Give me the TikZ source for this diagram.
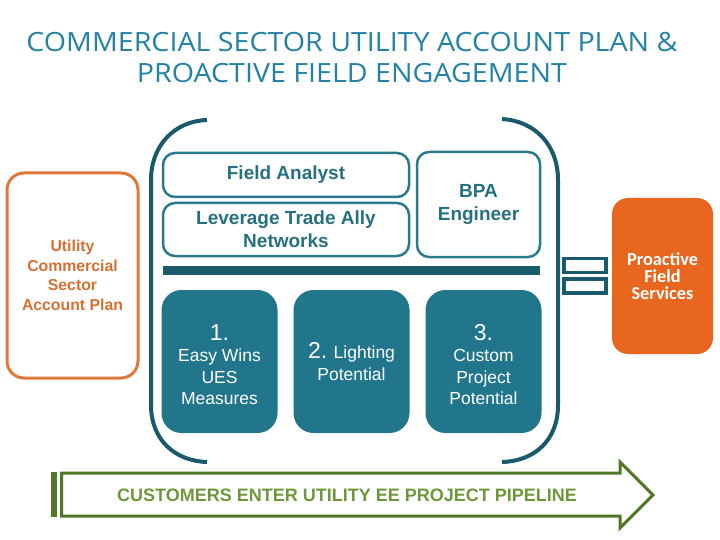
\documentclass[tikz,border=0pt]{standalone}
\usepackage{fontspec}
\setmainfont{Liberation Sans}
\newfontfamily\titlefont{Open Sans}
\newfontfamily\calfont{Carlito}
\definecolor{titleblue}{RGB}{36,130,165}
\definecolor{darkteal}{RGB}{27,90,107}
\definecolor{lineteal}{RGB}{42,122,140}
\definecolor{fillteal}{RGB}{34,118,139}
\definecolor{textteal}{RGB}{38,112,128}
\definecolor{orline}{RGB}{224,120,58}
\definecolor{ortext}{RGB}{214,112,50}
\definecolor{orfill}{RGB}{232,102,30}
\definecolor{gline}{RGB}{80,118,40}
\definecolor{gtext}{RGB}{108,152,58}
\begin{document}
\begin{tikzpicture}[x=1pt,y=-1pt,
  outbox/.style={draw=lineteal,line width=2.5pt,rounded corners=12pt,inner sep=0pt,
     text=textteal,font=\fontsize{19}{23}\selectfont\bfseries,align=center},
  numbox/.style={fill=fillteal,rounded corners=20pt,inner sep=0pt,text=white,
     font=\fontsize{17.5}{21.5}\selectfont,align=center,minimum width=116pt,minimum height=143pt},
  linkbox/.style={draw=darkteal,line width=3.5pt,inner sep=0pt,minimum width=42pt,minimum height=14pt}]
\useasboundingbox (0,0) rectangle (720,540);
% title
\node[font=\titlefont\fontsize{26.5}{31}\selectfont,text=titleblue,align=center,xscale=1.08,transform shape] (title) at (352,58)
  {COMMERCIAL SECTOR UTILITY ACCOUNT PLAN \&\\PROACTIVE FIELD ENGAGEMENT};
% utility box
\node[draw=orline,line width=3pt,rounded corners=17pt,minimum width=131pt,minimum height=205pt,
  inner sep=0pt,text=ortext,font=\fontsize{15.8}{19.5}\selectfont\bfseries,align=center] (util) at (72.5,275.5)
  {Utility\\Commercial\\Sector\\Account Plan};
% brackets
\draw[darkteal,line width=4pt] (207,120) .. controls (175,121) and (151,145) .. (151,180) -- (151,405)
  .. controls (151,440) and (175,461) .. (207,462);
\draw[darkteal,line width=4pt] (502,119) .. controls (535,121) and (558,145) .. (558,180) -- (558,405)
  .. controls (558,440) and (535,461) .. (502,462);
% top boxes
\node[outbox,minimum width=246pt,minimum height=44pt] (fa) at (286,175) {Field Analyst};
\node[outbox,minimum width=246pt,minimum height=53pt] (lev) at (286,229.5) {Leverage Trade Ally\\Networks};
\node[outbox,minimum width=123pt,minimum height=105pt] (bpa) at (478.5,204.5) {BPA\\Engineer};
% bar
\node[fill=darkteal,inner sep=0pt,minimum width=377pt,minimum height=9pt] (bar) at (351.5,270.5) {};
% numbered boxes
\node[numbox] (n1) at (219.5,361.5) {{\fontsize{23}{24}\selectfont\rule{0pt}{22pt}1.}\\Easy Wins\\UES\\Measures};
\node[numbox] (n2) at (351.5,361.5) {{\fontsize{23}{24}\selectfont 2.} Lighting\\Potential};
\node[numbox] (n3) at (483.5,361.5) {{\fontsize{23}{24}\selectfont\rule{0pt}{22pt}3.}\\Custom\\Project\\Potential};
% link icon
\node[linkbox] (lk1) at (585,265.5) {};
\node[linkbox] (lk2) at (585,286) {};
% proactive
\node[fill=orfill,rounded corners=16pt,minimum width=101pt,minimum height=156pt,inner sep=0pt,
  text=white,font=\calfont\bfseries\fontsize{18.3}{17}\selectfont,align=center] (pfs) at (662.5,276)
  {Proactive\\Field\\Services};
% pipeline arrow
\fill[gline] (51,472) rectangle (57,517);
\draw[gline,line width=3pt,line join=miter] (61.5,473) -- (620,473) -- (620,462) -- (653,495)
  -- (620,528) -- (620,516) -- (61.5,516) -- cycle;
\node[text=gtext,font=\fontsize{18}{18}\selectfont\bfseries] (pipe) at (347,495)
  {CUSTOMERS ENTER UTILITY EE PROJECT PIPELINE};
\end{tikzpicture}
\end{document}
